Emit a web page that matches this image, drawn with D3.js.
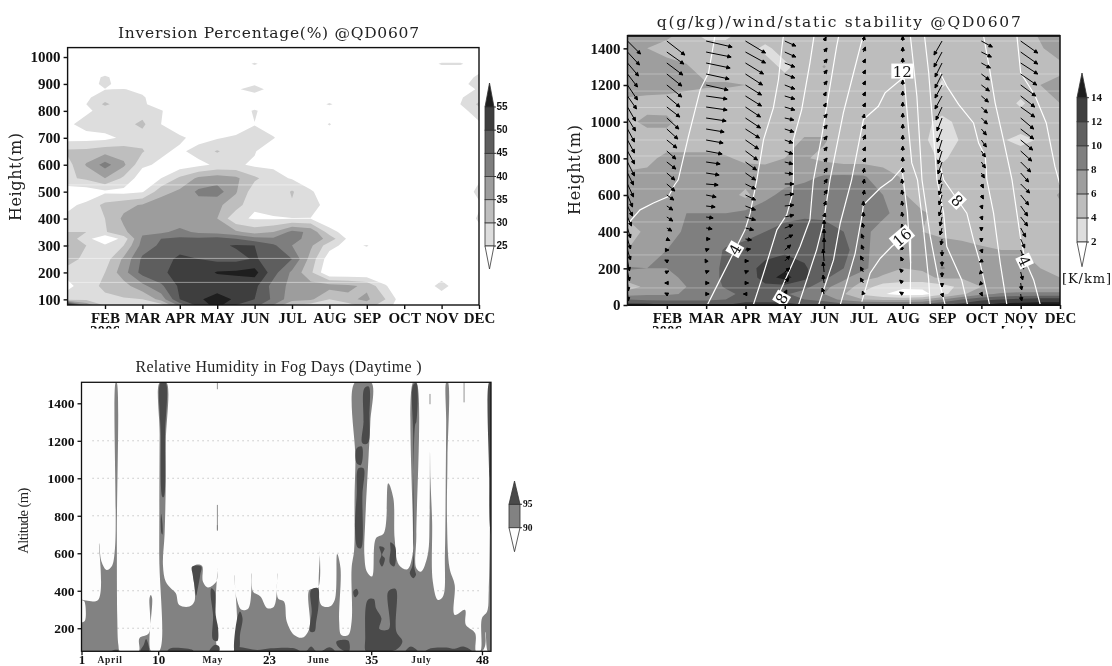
<!DOCTYPE html>
<html><head><meta charset="utf-8">
<script src="https://cdn.jsdelivr.net/npm/d3@7"></script>
<style>html,body{margin:0;padding:0;background:#fff}svg{display:block;filter:blur(.3px)}</style>
</head><body>
<svg id="c" width="1112" height="666"></svg>
<script>
const monthTicks=[2,3,4,5,6,7,8,9,10,11,12];
const monthLabels=['FEB','MAR','APR','MAY','JUN','JUL','AUG','SEP','OCT','NOV','DEC'];
const gridMonths=[1,1.5,2,2.5,3,3.5,4,4.5,5,5.5,6,6.5,7,7.5,8,8.5,9,9.5,10,10.5,11,11.5,12];

// Panel 1: inversion percentage
const invHeights=[1035,1000,975,950,925,900,880,850,825,800,750,700,650,600,550,500,450,400,350,325,300,250,200,150,100,79];
const invValues=[
[20,20,20,20,20,20,20,20,20,20,20,20,20,20,20,20,20,20,20,20,20,20,20],
[20,20,20,20,20,20,20,20,20,20,20,20,20,20,20,20,20,20,20,20,20,20,20],
[20,20,20,20,20,20,20,20,20,20,26,20,20,20,20,20,20,20,20,20,26,26,20],
[20,20,20,20,20,20,20,20,20,20,20,20,20,20,20,20,20,20,20,20,20,20,23],
[20,20,26.5,20,20,20,20,20,20,20,20,20,20,20,20,20,20,20,20,20,20,20,27],
[20,21,27,21,20,20,20,20,20,22,24,20,20,20,20,20,20,20,20,20,20,22,29],
[20,20,24.8,25.3,23,20,20,20,20,24,28,22,20,20,20,20,20,20,20,20,20,21,26],
[20,24,28,28,26,20,20,20,20,20,21,20,20,20,20,20,20,20,20,20,20,24.5,28],
[21,25,31,27,26,22,20,20,20,20,20,20,20,20,26,20,20,20,20,20,20,25,31],
[22,24,27,27,28,25.5,20,20,20,20,26,20,20,20,20,20,20,20,20,20,20,23,28],
[24,27,28,28.5,31,25,21,20,20,21,24.8,21,20,20,25.5,20,20,20,20,20,20,20,24],
[23,23,23.5,26,28,27,26,23,24.5,26,27,25.5,20,20,20,20,20,20,20,20,20,20,20],
[31,31.5,33,32.5,30.5,26,24,27,30.5,27,25.5,20,20,20,20,20,20,20,20,20,20,20,20],
[28,35.5,42,36,26,24,22,23.5,26,26,24,24,22,20,20,20,20,20,20,20,20,20,20],
[29,31,35,29,22,25,31,36,37.5,36,31,27,24.5,20,20,20,20,20,20,20,20,20,24],
[22,22,24,23.5,24.5,33,36,41,42.5,35.5,27,26,30.5,26,20,20,20,20,20,20,20,20,27],
[24,26,31.5,33.5,35.5,38,38.5,38,36,32.5,25.5,27,29.5,28,22,20,20,20,20,20,20,20,24],
[26,27,30,36,37.5,36.5,36.5,36,35,26,24.5,24.5,24.8,24.8,20,20,20,20,20,20,20,20,26],
[30,30,29.5,34,39,39,41.5,39,38,36,33,35,41.5,39,27.5,22,20,20,20,20,20,20,23],
[33,27,20,27,41,45,46,46,47,45,42,41,41,39,33,24,20,20,20,20,20,20,20],
[35.5,30,26,30,42,46,48,49,49,50.5,50,46,40,36,27,23,25.5,20,20,20,20,20,20],
[33,28,27.5,36,46,48,51,50,48.5,48.5,50.5,48,45,33,22,20,20,20,20,20,20,20,20],
[27,28,30,38,47,49.5,51,52,55.5,56,57,47,39,31,20,20,20,20,20,20,20,20,20],
[23.5,28,31,33,38.5,44,51,51,51.5,52,51.5,43,38.5,37,37,36,34,25.5,20,20,28,20,20],
[28,29,29,29.5,30,37,50,54,58,54,50,44,37,36,30,34,36,30,21,20,20,20,20],
[58,38,29,28,29,28,42,52,57,50,47,40,30,28,26,28,33,27,22,20,20,20,20]];
const invThresholds=[25,30,35,40,45,50,55];
const invColors=['#dddddd','#bebebe','#9d9d9d','#7e7e7e','#5e5e5e','#3e3e3e','#1e1e1e'];
const invTicks=[100,200,300,400,500,600,700,800,900,1000];
const invStreaks=[525,252,163];

// Panel 2: static stability shading
const stabHeights=[1469,1400,1300,1200,1100,1000,900,800,700,600,500,400,300,200,150,100,60,30,0];
const stabValues=[
[7,7,6.5,5,3.5,3.5,5,5,5,5,5,5,5,5,5,5,5,5,5,5,5,6.2,7],
[7,6,5,5,5,5,5,3.5,5,5,5,5,5,5,5,5,5,5,5,5,5,5.8,7],
[7,7,7,6.2,5,5,5,5,3.5,5,6.1,5,5,5,5,5,4.5,5,5,5,5,5,5.5],
[7,7,7,6.5,6.2,6.2,6,5,5,5,5,5,5,5,5,5,3.8,5,5,5,5,6,6.5],
[5.5,5.2,5,5,5,5,5,5,5,5,5,5,5,5,5,5,5,5,5,5,3.7,5,6],
[5.5,6.5,6.5,5,5,5,5,5,5,5,5,5,5,5,5,4.5,3.5,4.5,5,5,5,5,5],
[5,5,5,5,5,5,5,5,5,6.2,6.2,5,5,5,5,4.4,3,4.2,5,4.2,3.5,4.2,5],
[5,5.5,6.5,6.5,6.5,6.2,5.6,5.5,6,6.2,5.5,5,5,5,5,5,3.6,5,5,5,5,5,5],
[6.5,6.5,6.5,6.6,6.7,6.8,7,7,7.2,7.5,8.2,8.3,8.2,7,5.8,5,5,5,5,5,5,5,5],
[6.5,6.5,6.7,7,7,7,5.5,7.5,8.5,9,9,9,8.3,8,6.2,5,5,5,5,5,5,5,6.2],
[6.5,7,7.5,8,8,8,8.5,9,9.5,9.7,9.7,9.3,9,8.5,7,6.2,5.5,5,5,5,5,5,5.5],
[5,6.5,7.5,8.2,8.5,9,9.5,10,10.5,10.7,10.5,10,8.6,7,6.5,6,5.5,5,5,5,5,5,5],
[6,7.3,8,8.5,9,10.2,10.5,11,11.5,11.5,11,10.6,8.6,6.7,6.3,6.5,7,7,6.3,6,6,5.6,5.2],
[8.2,8,8,9,9,10.5,11,12.8,13.5,12.2,11,10,8.5,6.5,6,6.2,8.2,7,6.3,6,6,6,5.5],
[7,6.5,7.3,8.5,9,10.5,10.5,13,14.8,12.5,10.5,8.5,6.5,5.8,5.5,5.5,6.3,6.2,6,6,6,6.2,6],
[5,6.5,7,8,9,10.2,11,11.5,11.2,10.7,8.5,7,5,3,2.5,2.5,3.2,4.5,6,6.2,6.4,6.5,6.5],
[7,7.7,7.7,8.2,8.5,9.5,10.5,10.5,10.3,9,8,6.2,3.5,2.2,1,1.2,3.3,5.6,7.5,8.3,8.5,8.5,8.5],
[10,9.5,9.5,9.5,9.5,10,11,11,10.8,10,9,7.5,6,5.5,5.5,6,8,10,11.5,12,12.5,13,13],
[13,13,12,12,12,12,13,13,13,12,12,11,11,11,11,11,12,13,14,15,15,15,15]];
const stabThresholds=[2,4,6,8,10,12,14];
const stabColors=['#dedede','#bdbdbd','#9e9e9e','#7f7f7f','#606060','#3f3f3f','#1e1e1e'];
const stabTicks=[0,200,400,600,800,1000,1200,1400];
const stabStreaks=[1440,1260,1167,1077,993,900,813,720,633,453,273,93];

// Panel 2: wind, one row per month column, one entry per level
const windMonths=[1,2,3,4,5,6,7,8,9,10,11];
const windLevels=[1440,1380,1320,1260,1200,1140,1080,1020,960,900,840,780,720,660,600,540,480,420,360,300,240,180,120,60];
const windU=[
[13,12,11,10,10,9,8,8,7,7,7,7,6,6,5,5,4,3,3,3,2,2,1,1],
[18,17,16,15,15,13,13,12,11,10,9,9,8,8,7,6,6,5,3,2,-2,2,-2,-2],
[26,25,24,23,22,21,21,20,18,17,16,14,13,12,10,9,7,6,4,3,-1,3,3,3],
[20,20,18,17,16,16,15,15,14,13,12,11,10,10,10,10,10,8,6,5,3,3,3,-2],
[11,11,10,10,10,10,10,9,9,8,8,8,8,9,9,9,9,8,8,6,5,5,4,2],
[2,3,3,3,3,2,2,3,3,3,3,3,3,3,3,2,1,0,0,0,-1,-1,-1,-2],
[1,2,2,2,2,2,2,1,2,2,2,2,1,1,1,0,0,-1,-2,-2,-3,-3,-3,-1],
[0,0,0,0,0,0,0,0,0,0,0,0,0,-1,-1,-1,-1,-1,-1,-2,-2,-3,-3,-3],
[-8,-8,-7,-7,-7,-7,-6,-5,-5,-4,-4,-4,-3,-3,-3,-3,-2,-2,-1,0,0,0,0,1],
[11,10,9,8,8,7,6,6,5,5,4,4,3,2,2,1,1,0,0,1,-2,-2,-2,1],
[17,17,17,16,15,14,14,13,13,12,11,10,8,9,8,7,7,5,4,3,3,2,1,1]];
const windV=[
[-13,-13,-13,-13,-15,-13,-14,-13,-13,-13,-13,-14,-12,-13,-12,-10,-9,-10,-10,-10,-10,-9,-8,-7],
[-14,-12,-12,-12,-12,-11,-10,-11,-10,-8,-8,-7,-7,-7,-5,-4,-4,-3,-1.5,0,1,1,0,1],
[-6,-5,-5,-5,-5,-3,-3,-3,-3,-3,-3,-2,-2,-1,-2,-1,-1,-1,0,1,2,1,0,0],
[-12,-11,-11,-11,-10,-10,-10,-10,-9,-9,-9,-8,-7,-5,-5,-4,-3,-2,-1,1,0,1,0,0],
[-5,-5,-4,-4,-4,-3,-3,-2,-3,-3,-3,-2,-1,0,1,1,2,3,4,5,5,4,5,4],
[4,4,4,4,4,4,4,4,4,4,4,4,5,5,5,5,4,8,10,12,12,10,8,6],
[5,5,4,4,4,4,4,4,4,5,4,4,5,5,5,5,5,5,5,5,5,5,5,3],
[5,5,5,5,5,5,5,5,5,5,5,5,5,5,5,5,5,4,4,4,4,3,3,2],
[-14,-15,-14,-14,-13,-13,-13,-13,-13,-13,-13,-12,-11,-11,-10,-10,-9,-7,-6,-6,-5,-5,-4,-3],
[-6,-5,-5,-6,-6,-6,-6,-6,-6,-7,-6,-6,-5,-4,-4,-3,-3,-3,-3,-3,-1,-2,-2,-2],
[-12,-12,-11,-11,-11,-11,-10,-11,-10,-10,-10,-10,-9,-9,-10,-10,-9,-9,-9,-8,-8,-8,-7,-7]];

// Panel 2: specific humidity contours, [month,height]
const qLine1=[[1.02,446],[1.32,519],[1.66,556],[2.04,592],[2.2,656],[2.29,683],[2.55,920],[2.85,1175],[3.06,1267],[3.18,1412],[3.23,1476]];
const qLine2=[[3.03,0],[3.35,137],[3.65,264],[3.99,410],[4.12,501],[4.24,629],[4.29,683],[4.46,902],[4.71,1075],[4.84,1230],[4.92,1394],[4.97,1476]];
const qLine3=[[4.2,0],[4.46,173],[4.8,410],[5.05,492],[5.18,592],[5.22,683],[5.22,902],[5.43,1066],[5.64,1321],[5.75,1476]];
const qLine4=[[4.8,36],[5.39,319],[5.64,465],[5.69,592],[5.73,683],[5.94,920],[6.11,1139],[6.32,1412],[6.38,1476]];
const qLine5=[[5.35,0],[5.81,301],[5.98,446],[6.15,683],[6.49,1048],[6.75,1267],[7,1476]];
const qLine6=[[5.86,0],[6.24,246],[6.41,446],[6.7,683],[7,1011],[7.38,1084],[7.55,1157],[7.98,1234],[8.04,1230],[8.15,957],[8.23,775],[8.375,683],[8.53,410],[8.66,137],[8.7,0]];
const qLine7=[[6.41,0],[6.79,282],[6.96,483],[7,547],[7.43,638],[7.72,683],[7.98,747],[8.12,501],[8.2,228],[8.19,0]];
const qLine8=[[6.96,18],[7.17,173],[7.43,255],[7.72,319],[7.98,364],[8.2,383],[8.2,228]];
const qLine9=[[8.19,1476],[8.36,1139],[8.49,683],[8.7,374],[8.91,137],[9.08,0]];
const qLine10=[[8.55,1476],[8.66,1267],[8.74,1048],[8.87,683],[9.04,501],[9.12,319],[9.5,137],[9.65,0]];
const qLine11=[[8.95,1267],[9.12,1194],[9.42,1094],[9.8,993],[9.93,884],[10.1,811],[10.14,683],[10.31,501],[10.48,228],[10.65,0]];
const qLine12=[[8.95,765],[9.04,683],[9.39,574],[9.63,501],[9.8,355],[9.97,228],[10.21,0]];
const qLine13=[[10.05,1476],[10.21,1285],[10.35,1103],[10.56,902],[10.78,683],[10.99,374],[11.12,240],[11.33,137],[11.5,0]];
const qLine14=[[10.9,1476],[11,1267],[11.24,1185],[11.37,1139],[11.58,1030],[11.65,993],[11.87,756],[12,656]];
const qLines=[qLine1,qLine2,qLine3,qLine4,qLine5,qLine6,qLine7,qLine8,qLine9,qLine10,qLine11,qLine12,qLine13,qLine14];
const qLabelText=['4','8','12','16','8','4'];
const qLabelMonth=[3.73,4.92,7.99,7.98,9.39,11.1];
const qLabelHeight=[304,36,1276,370,570,240];
const qLabelAngle=[-60,-60,0,-40,45,65];

// Panel 3: relative humidity, outline of >=90 % and patches of >=95 %
const rh90Outline=[[1,77],[1,227],[1.4,240],[1.45,324],[1.3,345],[1,351],[2.94,351],[3.06,653],[3.34,556],[3.94,511],[4.53,529],[4.93,627],[5.02,1512],[5.12,1512],[5.15,700],[5.2,253],[5.33,111],[5.52,77],[7.7,77],[7.8,147],[8.9,173],[8.98,360],[9.13,378],[9.29,360],[9.17,77],[10.1,77],[10.12,600],[10.17,1231],[10.2,1512],[10.96,1512],[10.9,1200],[10.88,947],[10.75,700],[10.56,538],[10.88,449],[11.48,413],[12.07,387],[12.47,324],[13.66,316],[14.25,342],[14.25,534],[15.13,534],[15.25,449],[15.84,417],[16.83,449],[16.95,520],[17.15,77],[18.9,77],[18.94,484],[19.2,360],[19.8,298],[20.6,307],[21,493],[21.12,396],[22,369],[22.8,307],[23.6,316],[24,493],[24.06,360],[24.77,342],[25.09,236],[25.96,164],[26.95,150],[27.75,200],[27.75,404],[28.74,413],[28.98,609],[29.13,324],[30.13,316],[30.72,351],[31,596],[31.4,520],[31.24,236],[31.5,164],[32.3,164],[32.7,236],[32.7,520],[33,620],[33.05,900],[33.15,1100],[33.1,1512],[35,1512],[34.9,1302],[34.7,1124],[34.3,769],[34.2,591],[34.5,502],[35.1,476],[35.56,680],[36.48,707],[37,973],[37.6,893],[37.75,680],[38.26,538],[39.25,515],[39.85,591],[39.9,700],[39.93,1512],[40.3,1512],[40.3,700],[40.3,520],[40.84,502],[41.63,591],[41.85,800],[41.9,1142],[41.95,1000],[42.15,769],[42.23,449],[42.83,351],[43.42,369],[43.65,600],[43.74,947],[43.8,1300],[43.82,1512],[44,1512],[43.95,1100],[43.9,769],[44.2,520],[44.8,431],[44.8,271],[46,298],[46.1,218],[47.2,173],[47.3,77],[47.8,77],[48,253],[48.6,289],[48.8,404],[49.06,1512],[49.06,77],[48.7,77],[48.4,180],[48,77]];
const rh95Patches=[
[[10.3,1512],[10.85,1512],[10.8,1230],[10.65,900],[10.5,900],[10.3,1230]],
[[10.35,810],[10.5,760],[10.5,700],[10.4,705],[10.3,760]],
[[13.98,529],[15.05,529],[14.93,484],[14.65,413],[14.45,374],[14.25,431],[14.05,484]],
[[16.24,413],[16.63,396],[16.75,271],[17.03,200],[16.95,132],[16.44,138],[16.44,271],[16.16,378]],
[[16.04,84],[16.63,111],[17.15,102],[17.15,77],[16,77]],
[[7.9,77],[8.3,111],[8.58,143],[8.9,77]],
[[11.08,77],[11.48,93],[14.05,84],[14.13,77]],
[[4.5,77],[4.8,84],[5.3,84],[5.35,77]],
[[19.2,236],[19.6,289],[19.9,253],[19.6,164],[19.5,93],[19,77]],
[[18.9,77],[19.2,98],[21.6,84],[23.2,93],[25.96,93],[26.75,77],[27.35,77],[27.95,102],[28.55,77],[29.13,77],[30.13,98],[30.72,77]],
[[27.94,404],[28.74,413],[28.82,324],[28.54,236],[28.34,182],[27.83,182],[28.02,289]],
[[30.92,129],[32.3,134],[32.4,77],[31.9,77],[31.1,102]],
[[34.2,1480],[34.7,1489],[34.8,1338],[34.6,1187],[33.97,1187],[34.1,1302]],
[[33.3,1160],[33.9,1169],[33.8,1071],[33.3,1080]],
[[33.5,1053],[34.1,1053],[33.97,911],[33.8,627],[33.4,631],[33.1,733],[33.3,911]],
[[32.9,396],[33.3,410],[33.5,387],[33.1,365]],
[[34.37,77],[34.3,147],[34.6,351],[35.3,356],[35.56,307],[36.2,253],[35.96,196],[37.07,196],[37,396],[37.87,410],[37.95,182],[38.66,129],[37.87,84],[35.1,77]],
[[35.96,636],[36.56,627],[36.28,591],[36.6,573],[36.28,529],[35.96,556],[36.2,591]],
[[37.27,659],[37.8,636],[37.87,556],[37.67,529],[37.19,547],[37.27,618]],
[[39.93,1498],[40.3,1507],[40.3,1302],[40.16,1285],[40.08,520],[40.25,484],[39.93,467],[39.53,493],[39.85,538],[39.93,1213]],
[[39.05,77],[39.65,102],[40.45,77]],
[[41.4,77],[42,93],[43.8,97],[44.8,90],[45.8,102],[46.8,77]],
[[48.85,1512],[49.06,1512],[49.06,700],[48.9,760],[48.85,1000]]];
const rhThinSpikes=[[16.95,858,720],[16.95,750,725],[16.95,1512,1475],[41.9,1450,1395],[45.9,1512,1405]];
const rhDotted=[200,400,600,800,1000,1200];
const rhTicks=[200,400,600,800,1000,1200,1400];
const dayTicks=[1,10,23,35,48];
const rhMonthText=['April','May','June','July'];
const rhMonthDay=[4.35,16.4,28.8,40.9];
const rhThresholds=[90,95];
const rhColors=['#828282','#4a4a4a'];

const svg=d3.select('#c');
const BOLD='"Liberation Serif",serif', SLAB='"DejaVu Serif",serif';
let clipId=0;
function clipRect(x,y,w,h){const id='clip'+(++clipId);svg.append('clipPath').attr('id',id).append('rect').attr('x',x).attr('y',y).attr('width',w).attr('height',h);return id;}

function drawContours(g,values,cols,rows,thresholds,colors,x,y){
  const n=cols.length,m=rows.length;
  const ci=d3.scaleLinear().domain([0,...cols.map((_,i)=>i+.5),n]).range([cols[0],...cols,cols[n-1]]);
  const ri=d3.scaleLinear().domain([0,...rows.map((_,i)=>i+.5),m]).range([rows[0],...rows,rows[m-1]]);
  const path=d3.geoPath(d3.geoTransform({point(px,py){this.stream.point(x(ci(px)),y(ri(py)));}}));
  const cs=d3.contours().size([n,m]).thresholds(thresholds)(values.flat());
  g.selectAll('path.band').data(cs).join('path').attr('class','band').attr('d',path).attr('fill',(d,i)=>colors[i]);
}
function title(t,x,y,len,size,font){
  svg.append('text').text(t).attr('x',x).attr('y',y).attr('text-anchor','middle').attr('font-family',font).attr('font-size',size)
   .attr('textLength',len).attr('lengthAdjust','spacing').attr('fill','#222');
}
function vtitle(t,x,y,len,size,font){
  svg.append('text').text(t).attr('transform',`translate(${x},${y}) rotate(-90)`).attr('text-anchor','middle').attr('font-family',font).attr('font-size',size)
   .attr('textLength',len).attr('lengthAdjust','spacing').attr('fill','#222');
}
function axes(x,y,xTicks,xFmt,yTicks,fs,sw){
  const [x0,x1]=x.range(),[y1,y0]=y.range();
  const ax=svg.append('g').attr('transform',`translate(0,${y1})`).call(d3.axisBottom(x).tickValues(xTicks).tickFormat(xFmt).tickSize(4).tickSizeOuter(0));
  const ay=svg.append('g').attr('transform',`translate(${x0},0)`).call(d3.axisLeft(y).tickValues(yTicks).tickFormat(d3.format('d')).tickSize(4).tickSizeOuter(0));
  [ax,ay].forEach(a=>{a.select('.domain').remove();a.selectAll('line').attr('stroke','#111').attr('stroke-width',sw);
    a.selectAll('text').attr('font-family',BOLD).attr('font-weight','bold').attr('font-size',fs).attr('fill','#111');});
  svg.append('rect').attr('x',x0).attr('y',y0).attr('width',x1-x0).attr('height',y1-y0).attr('fill','none').attr('stroke','#111').attr('stroke-width',sw);
  return {ax,ay};
}
function colorbar(x,w,thresholds,colors,yScale,yTop,yBot,labelX,labelFont,labelSize,labelWeight){
  const g=svg.append('g');
  const tMax=thresholds[thresholds.length-1],tMin=thresholds[0];
  const bands=thresholds.slice(0,-1).map((t,i)=>({t,next:thresholds[i+1],c:colors[i]}));
  g.selectAll('rect').data(bands).join('rect').attr('x',x).attr('width',w).attr('y',d=>yScale(d.next)).attr('height',d=>yScale(d.t)-yScale(d.next)).attr('fill',d=>d.c).attr('stroke','#333').attr('stroke-width',.8);
  g.append('path').attr('d',d3.line()([[x,yScale(tMax)],[x+w/2,yTop],[x+w,yScale(tMax)]])+'Z').attr('fill',colors[colors.length-1]).attr('stroke','#333').attr('stroke-width',.8);
  g.append('path').attr('d',d3.line()([[x,yScale(tMin)],[x+w/2,yBot],[x+w,yScale(tMin)]])+'Z').attr('fill','#fff').attr('stroke','#333').attr('stroke-width',.8);
  g.selectAll('line').data(thresholds).join('line').attr('x1',x+w).attr('x2',x+w+2).attr('y1',yScale).attr('y2',yScale).attr('stroke','#333');
  g.selectAll('text').data(thresholds).join('text').attr('x',labelX).attr('y',d=>yScale(d)+3).text(d=>d).attr('font-family',labelFont).attr('font-size',labelSize).attr('font-weight',labelWeight).attr('fill','#111');
}

/* Panel 1 */
{
  const x=d3.scaleLinear().domain([1,12]).range([67.6,479]);
  const y=d3.scaleLinear().domain([79,1035]).range([305,47.6]);
  const g=svg.append('g').attr('clip-path',`url(#${clipRect(67.6,47.6,411.4,257.4)})`);
  drawContours(g,invValues,gridMonths,invHeights,invThresholds,invColors,x,y);
  g.selectAll('line').data(invStreaks).join('line').attr('x1',x(1)).attr('x2',x(12)).attr('y1',y).attr('y2',y).attr('stroke','#fff').attr('stroke-opacity',.45);
  axes(x,y,monthTicks,(d,i)=>monthLabels[i],invTicks,15,1.4);
  title('Inversion Percentage(%) @QD0607',268.5,38,301,15.5,SLAB);
  vtitle('Height(m)',21,177,88,16,SLAB);
  const cb=d3.scaleLinear().domain([25,55]).range([246,107]);
  colorbar(485,9,invThresholds,invColors,cb,83,269,496.5,'"Liberation Sans",sans-serif',10,'bold');
  svg.append('text').text('2006').attr('clip-path',`url(#${clipRect(85,322,50,6.5)})`).attr('x',105).attr('y',336).attr('text-anchor','middle').attr('font-family',BOLD).attr('font-weight','bold').attr('font-size',15);
}

/* Panel 2 */
{
  const x=d3.scaleLinear().domain([1,12]).range([627.5,1060]);
  const y=d3.scaleLinear().domain([0,1469]).range([305,35.7]);
  const g=svg.append('g').attr('clip-path',`url(#${clipRect(627.5,35.7,432.5,269.3)})`);
  drawContours(g,stabValues,gridMonths,stabHeights,stabThresholds,stabColors,x,y);
  g.append('g').selectAll('line').data(stabStreaks).join('line').attr('x1',x(1)).attr('x2',x(12)).attr('y1',y).attr('y2',y).attr('stroke','#fff').attr('stroke-opacity',.3);
  const line=d3.line().x(d=>x(d[0])).y(d=>y(d[1]));
  g.append('g').selectAll('path').data(qLines).join('path').attr('d',line).attr('fill','none').attr('stroke','#fff').attr('stroke-width',1.2);
  // wind
  const arrows=[];
  windMonths.forEach((m,i)=>windLevels.forEach((h,j)=>arrows.push({m,h,u:windU[i][j],v:windV[i][j]})));
  const wg=g.append('g');
  wg.selectAll('path').data(arrows).join('path').attr('d',d=>{
    const x0=x(d.m),y0=y(d.h),x1=x0+d.u,y1=y0-d.v,a=Math.atan2(y1-y0,x1-x0),s=3.8;
    const hx=(t)=>x1-s*Math.cos(a+t),hy=(t)=>y1-s*Math.sin(a+t);
    return `M${x0},${y0}L${x1},${y1}M${hx(.45)},${hy(.45)}L${x1},${y1}L${hx(-.45)},${hy(-.45)}Z`;
  }).attr('fill','#000').attr('stroke','#000').attr('stroke-width',1);
  // labels
  const lg=g.append('g');
  const labs=qLabelText.map((t,i)=>({t,m:qLabelMonth[i],h:qLabelHeight[i],a:qLabelAngle[i]}));
  const lab=lg.selectAll('g').data(labs).join('g').attr('transform',d=>`translate(${x(d.m)},${y(d.h)}) rotate(${d.a})`);
  lab.append('rect').attr('x',d=>-d.t.length*5-1).attr('y',-7.5).attr('width',d=>d.t.length*10+2).attr('height',15).attr('fill','#fff');
  lab.append('text').text(d=>d.t).attr('text-anchor','middle').attr('y',5.5).attr('font-family',SLAB).attr('font-size',15).attr('fill','#111');
  axes(x,y,monthTicks,(d,i)=>monthLabels[i],stabTicks,15,1.5);
  svg.append('line').attr('x1',627.5).attr('x2',1060).attr('y1',35.7).attr('y2',35.7).attr('stroke','#111').attr('stroke-width',2);
  svg.append('line').attr('x1',627.5).attr('x2',1060).attr('y1',305).attr('y2',305).attr('stroke','#111').attr('stroke-width',2);
  title('q(g/kg)/wind/static stability @QD0607',838.8,27,364,15.5,SLAB);
  vtitle('Height(m)',580,170,90,16,SLAB);
  const cb=d3.scaleLinear().domain([2,14]).range([242,97.7]);
  colorbar(1077,10,stabThresholds,stabColors,cb,73,266.7,1091,BOLD,11,'bold');
  svg.append('text').text('[K/km]').attr('x',1062).attr('y',283).attr('font-family',SLAB).attr('font-size',13).attr('textLength',49).attr('fill','#111');
  svg.append('text').text('2006').attr('clip-path',`url(#${clipRect(645,322,45,6.5)})`).attr('x',667).attr('y',336).attr('text-anchor','middle').attr('font-family',BOLD).attr('font-weight','bold').attr('font-size',15);
  svg.append('text').text('[m/s]').attr('clip-path',`url(#${clipRect(995,322,45,6.5)})`).attr('x',1017).attr('y',336).attr('text-anchor','middle').attr('font-family',BOLD).attr('font-weight','bold').attr('font-size',15);
}

/* Panel 3 */
{
  const x=d3.scaleLinear().domain([1,49.06]).range([81.5,491]);
  const y=d3.scaleLinear().domain([77,1512]).range([651.3,382.3]);
  const g=svg.append('g').attr('clip-path',`url(#${clipRect(81.5,382.3,409.5,269)})`);
  g.append('rect').attr('x',81.5).attr('y',382.3).attr('width',409.5).attr('height',269).attr('fill','#fdfdfd');
  g.append('g').selectAll('line').data(rhDotted).join('line').attr('x1',x(2.3)).attr('x2',x(48)).attr('y1',y).attr('y2',y).attr('stroke','#aaa').attr('stroke-dasharray','1 4');
  const line=d3.line().x(d=>x(d[0])).y(d=>y(d[1])).curve(d3.curveCatmullRomClosed.alpha(.5));
  g.append('path').attr('d',line(rh90Outline)).attr('fill',rhColors[0]);
  g.append('g').selectAll('path').data(rh95Patches).join('path').attr('d',line).attr('fill',rhColors[1]);
  g.append('g').selectAll('line').data(rhThinSpikes).join('line').attr('x1',d=>x(d[0])).attr('x2',d=>x(d[0])).attr('y1',d=>y(d[1])).attr('y2',d=>y(d[2])).attr('stroke','#777').attr('stroke-width',.8);
  const {ax}=axes(x,y,dayTicks,d=>d,rhTicks,13.5,1.3);
  ax.selectAll('text').attr('font-size',13).attr('y',3.5);
  svg.append('g').selectAll('text').data(rhMonthText).join('text').text(d=>d).attr('x',(d,i)=>x(rhMonthDay[i])).attr('y',663).attr('text-anchor','middle').attr('font-family',BOLD).attr('font-weight','bold').attr('font-size',9.5).attr('letter-spacing',.7).attr('fill','#222');
  title('Relative Humidity in Fog Days (Daytime )',278.5,372,286,16,BOLD);
  vtitle('Altitude (m)',28,520.7,66,14.5,BOLD);
  const cb=d3.scaleLinear().domain([90,95]).range([527.7,504.3]);
  colorbar(509,11,rhThresholds,rhColors,cb,481,551.7,523,BOLD,9.5,'bold');
}
</script>
</body></html>
